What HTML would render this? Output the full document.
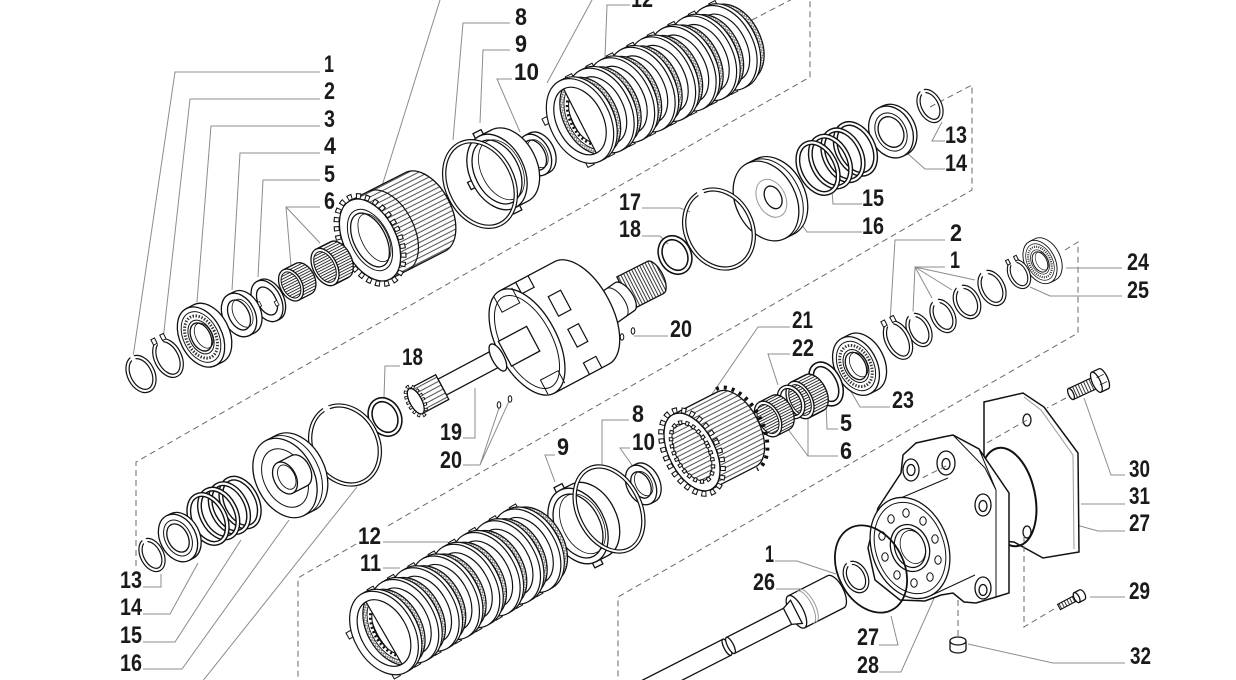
<!DOCTYPE html>
<html><head><meta charset="utf-8">
<style>
html,body{margin:0;padding:0;background:#fff;}
svg{display:block;}
text{font-family:"Liberation Sans Narrow","Liberation Sans",sans-serif;font-weight:bold;font-size:24px;fill:#1a1a1a;}
.k{fill:#fff;stroke:#111;stroke-width:1.3}
.n{fill:none;stroke:#111;stroke-width:1.2}
.rb{fill:none;stroke:#111;stroke-width:4.4}
.rw{fill:none;stroke:#fff;stroke-width:2}
.ld{fill:none;stroke:#8c8c8c;stroke-width:1}
.ds{fill:none;stroke:#6a6a6a;stroke-width:1;stroke-dasharray:6 4}
</style></head><body>
<svg width="1236" height="680" viewBox="0 0 1236 680" xmlns="http://www.w3.org/2000/svg">
<defs>
<pattern id="nd" width="6" height="2.6" patternUnits="userSpaceOnUse"><rect width="6" height="2.6" fill="#fff"/><path d="M0,1.3H6" stroke="#222" stroke-width="0.9"/></pattern>
<pattern id="sp" width="6" height="4.5" patternUnits="userSpaceOnUse"><rect width="6" height="4.5" fill="#fff"/><path d="M0,2.2H6" stroke="#222" stroke-width="0.8"/></pattern>
<pattern id="th" width="3" height="6" patternUnits="userSpaceOnUse"><rect width="3" height="6" fill="#fff"/><path d="M1.5,0V6" stroke="#222" stroke-width="0.9"/></pattern>
<pattern id="xh" width="3.5" height="3.5" patternUnits="userSpaceOnUse"><rect width="3.5" height="3.5" fill="#fff"/><path d="M0,0L3.5,3.5M3.5,0L0,3.5" stroke="#555" stroke-width="0.6"/></pattern>
<g id="pu">
 <path fill-rule="evenodd" d="M-15.5,0A27,41 0 1 0 38.5,0A27,41 0 1 0 -15.5,0ZM-7.5,0A19,30 0 1 0 30.5,0A19,30 0 1 0 -7.5,0Z" fill="url(#xh)" stroke="#111" stroke-width="1.2"/>
 <path fill-rule="evenodd" d="M-11.5,0A23,36 0 1 0 34.5,0A23,36 0 1 0 -11.5,0ZM-7.5,0A19,30 0 1 0 30.5,0A19,30 0 1 0 -7.5,0Z" fill="#fff" stroke="#111" stroke-width="0.8"/>
 <ellipse cx="11.5" rx="20.5" ry="31.5" fill="none" stroke="#111" stroke-width="2.6" stroke-dasharray="2 2.6"/>
 <rect x="7" y="-46" width="7" height="6" fill="#fff" stroke="#111" stroke-width="1"/>
 <rect x="-14" y="39" width="7" height="6" fill="#fff" stroke="#111" stroke-width="1"/>
 <rect x="-33" y="-19" width="6" height="7" fill="#fff" stroke="#111" stroke-width="1"/>
 <path d="M0,-45H4A30,45 0 0 1 4,45H0Z" fill="#fff" stroke="#111" stroke-width="1.2"/>
 <path fill-rule="evenodd" d="M-30,0A30,45 0 1 0 30,0A30,45 0 1 0 -30,0ZM-23,0A23,36 0 1 0 23,0A23,36 0 1 0 -23,0Z" fill="#fff" stroke="#111" stroke-width="1.2"/>
</g>
<g id="brg">
 <path d="M0,-32H8A21,32 0 0 1 8,32H0Z" class="k"/>
 <ellipse rx="21" ry="32" class="k"/>
 <ellipse rx="17.5" ry="27" class="n" style="stroke-width:1"/>
 <ellipse rx="14.5" ry="22.5" fill="none" stroke="#333" stroke-width="3" stroke-dasharray="1.4 1.6"/>
 <ellipse rx="11.5" ry="18" class="n" style="stroke-width:1"/>
 <ellipse rx="9.5" ry="15" class="k"/>
 <ellipse cx="3" rx="8" ry="13.5" class="n" style="stroke-width:.8"/>
</g>
</defs>

<g class="ds">
 <path d="M136,566 V462 L810,77 V0"/>
 <path d="M752,20 L800,-5"/>
 <path d="M930,107 L972,85 V190 L386,527"/>
 <path d="M356,544 L298,578 V680"/>
 <path d="M1065,250 L1078,242 V333 L618,597 V680"/>
</g>

<g class="ld">
 <path d="M320,72H175L133,357"/>
 <path d="M320,99H190L163,340"/>
 <path d="M320,126H211L197,302"/>
 <path d="M320,153H240L232,290"/>
 <path d="M320,180H263L258,277"/>
 <path d="M320,207H286L291,266M286,207L320,243"/>
 <path d="M440,0L382,186"/>
 <path d="M510,23H463L453,140"/>
 <path d="M510,50H483L480,123"/>
 <path d="M512,79H497L520,132"/>
 <path d="M630,5H607L605,57"/>
 <path d="M592,0L547,83"/>
 <path d="M945,141H932L942,122"/>
 <path d="M945,169H925L907,153"/>
 <path d="M862,204H833L832,190"/>
 <path d="M862,232H807L800,222"/>
 <path d="M642,208H680L690,212"/>
 <path d="M642,236H660L668,244"/>
 <path d="M945,240H895L890,322"/>
 <path d="M945,267H915L913,312M915,267L932,298M915,267L952,290M915,267L975,280"/>
 <path d="M1122,268H1066"/>
 <path d="M1122,296H1050L1030,287"/>
 <path d="M668,336H634"/>
 <path d="M790,327H758L710,397"/>
 <path d="M790,354H768L778,385"/>
 <path d="M890,407H860L850,390"/>
 <path d="M838,429H827L826,400"/>
 <path d="M838,456H808L808,412M808,456L787,428"/>
 <path d="M400,366H385L384,398"/>
 <path d="M463,438H475V388"/>
 <path d="M463,465H480L500,405M480,465L510,399"/>
 <path d="M143,587H161V574"/>
 <path d="M143,614H170L198,563"/>
 <path d="M143,642H175L241,540"/>
 <path d="M143,669H182L289,520"/>
 <path d="M143,697H190L357,487"/>
 <path d="M383,542H448"/>
 <path d="M383,568H400"/>
 <path d="M555,455H545L555,482"/>
 <path d="M629,420H602V465"/>
 <path d="M630,448H620L634,468"/>
 <path d="M775,561H797L836,574"/>
 <path d="M776,589H800L812,594"/>
 <path d="M879,645H898L891,616"/>
 <path d="M879,672H901L936,594"/>
 <path d="M1125,475H1111L1084,398"/>
 <path d="M1125,504H1081"/>
 <path d="M1125,531H1098L1040,515"/>
 <path d="M1125,597H1090"/>
 <path d="M1125,663H1053L968,644"/>
</g>

<g transform="translate(580,121) rotate(-27)">
 <use href="#pu" x="161"/><use href="#pu" x="138"/><use href="#pu" x="115"/><use href="#pu" x="92"/>
 <use href="#pu" x="69"/><use href="#pu" x="46"/><use href="#pu" x="23"/><use href="#pu" x="0"/>
</g>
<g transform="translate(535,155) rotate(-27)">
 <path d="M0,-22H5A15,22 0 0 1 5,22H0Z" class="k"/><ellipse rx="15" ry="22" class="k"/><ellipse rx="10" ry="16" class="k"/><ellipse cx="3" rx="9" ry="15" class="n" style="stroke-width:.8"/>
</g>
<g transform="translate(497,172) rotate(-27)">
 <rect x="-4" y="-45" width="9" height="6" class="k"/><rect x="-4" y="39" width="9" height="6" class="k"/><rect x="-31" y="-4" width="6" height="8" class="k"/>
 <path d="M0,-40H14A27,40 0 0 1 14,40H0Z" class="k"/>
 <ellipse rx="27" ry="40" class="k"/><ellipse rx="22" ry="34" class="k"/><ellipse cx="5" rx="20" ry="32" class="n" style="stroke-width:.8"/>
</g>
<g transform="translate(480,184) rotate(-27)"><ellipse rx="33" ry="45" class="rb"/><ellipse rx="33" ry="45" class="rw"/></g>
<g transform="translate(370,240) rotate(-27)">
 <path d="M0,-44H62A26,44 0 0 1 62,44H0Z" fill="url(#sp)" stroke="#111" stroke-width="1.3"/>
 <path d="M20,-44A26,44 0 0 1 20,44" class="n"/>
 <ellipse rx="29" ry="47" fill="none" stroke="#111" stroke-width="6" stroke-dasharray="5 4"/>
 <ellipse rx="29" ry="47" fill="none" stroke="#fff" stroke-width="3.8" stroke-dasharray="3 6" stroke-dashoffset="-1"/>
 <ellipse rx="26" ry="44" class="k"/>
 <ellipse rx="19" ry="33" class="n" style="stroke-width:1"/>
 <ellipse rx="16" ry="29" class="k"/>
 <ellipse cx="5" rx="13" ry="26" class="n" style="stroke-width:.8"/>
</g>
<g transform="translate(325,267) rotate(-27)">
 <path d="M0,-20H16A12,20 0 0 1 16,20H0Z" fill="url(#nd)" stroke="#111" stroke-width="1.3"/><ellipse rx="12" ry="20" class="k"/><ellipse rx="9.5" ry="16.5" fill="url(#nd)" stroke="#111" stroke-width="1"/>
</g>
<g transform="translate(291,285) rotate(-27)">
 <path d="M0,-17H14A11,17 0 0 1 14,17H0Z" fill="url(#nd)" stroke="#111" stroke-width="1.3"/><ellipse rx="11" ry="17" class="k"/><ellipse rx="8.5" ry="14" fill="url(#nd)" stroke="#111" stroke-width="1"/>
</g>
<g transform="translate(267,301) rotate(-27)">
 <path d="M0,-22H3A14,22 0 0 1 3,22H0Z" class="k"/><ellipse rx="14" ry="22" class="k"/><ellipse rx="9" ry="15" class="k"/>
 <rect x="-10" y="-3" width="3" height="5" class="k" style="stroke-width:.8"/><rect x="6" y="4" width="3" height="5" class="k" style="stroke-width:.8"/>
</g>
<g transform="translate(239,315) rotate(-27)">
 <path d="M0,-23H6A16,23 0 0 1 6,23H0Z" class="k"/><ellipse rx="16" ry="23" class="k"/><ellipse rx="10" ry="16" class="k"/><ellipse cx="4" rx="9" ry="15" class="n" style="stroke-width:.8"/>
</g>
<use href="#brg" transform="translate(201,337) rotate(-27)"/>
<g transform="translate(168,358) rotate(-27)">
 <ellipse rx="12" ry="19" class="rb"/><ellipse rx="12" ry="19" class="rw"/>
 <rect x="-3" y="-23" width="6" height="8" fill="#fff"/>
 <rect x="-7" y="-24" width="4" height="6" class="k" style="stroke-width:1"/><rect x="3" y="-24" width="4" height="6" class="k" style="stroke-width:1"/>
</g>
<g transform="translate(141,374) rotate(-27)">
 <ellipse rx="12" ry="18" class="rb"/><ellipse rx="12" ry="18" class="rw"/><rect x="-2" y="-22" width="4" height="8" fill="#fff"/>
</g>

<g transform="translate(930,106) rotate(-27)">
 <ellipse rx="10" ry="16" class="rb"/><ellipse rx="10" ry="16" class="rw"/><rect x="-2" y="-20" width="4" height="7" fill="#fff"/>
</g>
<g transform="translate(891,132) rotate(-27)">
 <path d="M0,-27H4A21,27 0 0 1 4,27H0Z" class="k"/><ellipse rx="21" ry="27" class="k"/><ellipse rx="15" ry="20" class="n" style="stroke-width:1"/><ellipse rx="12" ry="16" class="k"/>
</g>
<g transform="translate(818,168) rotate(-27)">
 <ellipse cx="42" rx="18" ry="27" class="rb" style="stroke-width:5"/><ellipse cx="42" rx="18" ry="27" class="rw" style="stroke-width:2.2"/>
 <ellipse cx="28" rx="18" ry="27" class="rb" style="stroke-width:5"/><ellipse cx="28" rx="18" ry="27" class="rw" style="stroke-width:2.2"/>
 <ellipse cx="14" rx="18" ry="27" class="rb" style="stroke-width:5"/><ellipse cx="14" rx="18" ry="27" class="rw" style="stroke-width:2.2"/>
 <ellipse cx="0" rx="18" ry="27" class="rb" style="stroke-width:5"/><ellipse cx="0" rx="18" ry="27" class="rw" style="stroke-width:2.2"/>
</g>
<g transform="translate(766,201) rotate(-27)">
 <path d="M0,-42H10A30,42 0 0 1 10,42H0Z" class="k"/>
 <path d="M5,-42A30,42 0 0 1 5,42" class="n" style="stroke-width:1"/>
 <ellipse rx="30" ry="42" class="k"/>
 <ellipse cx="6" rx="14" ry="20" fill="none" stroke="#999" stroke-width="1"/>
 <ellipse cx="8" rx="8" ry="12" class="k"/>
</g>
<g transform="translate(719,229) rotate(-27)">
 <ellipse rx="33" ry="41" class="rb"/><ellipse rx="33" ry="41" class="rw"/><rect x="-3" y="-45" width="6" height="8" fill="#fff"/>
</g>
<g transform="translate(675,255) rotate(-27)"><ellipse rx="14" ry="18" class="rb" style="stroke-width:5.5"/><ellipse rx="14" ry="18" class="rw" style="stroke-width:2.4"/></g>

<g transform="translate(625,293) rotate(-27)">
 <path d="M0,-18H34A8,18 0 0 1 34,18H0Z" fill="url(#th)" stroke="#111" stroke-width="1.3"/>
</g>
<g transform="translate(600,314) rotate(-35)">
 <path d="M0,-17H30A8,17 0 0 1 30,17H0Z" class="k"/>
 <path d="M20,-17A8,17 0 0 1 20,17" class="n" style="stroke-width:1"/>
</g>
<g transform="translate(527,342) rotate(-28)">
 <path d="M0,-58H62A30,58 0 0 1 62,58H0Z" class="k"/>
 <path d="M18,-58V-45H32V-58" class="n"/>
 <path d="M40,58V45H54V58" class="n"/>
 <rect x="40" y="-30" width="14" height="22" class="n"/>
 <rect x="42" y="8" width="12" height="20" class="n"/>
 <ellipse rx="30" ry="58" class="k"/>
 <ellipse rx="25" ry="51" class="n" style="stroke-width:1"/>
 <path d="M-8,-56V-38H12V-55" class="n" style="stroke-width:1"/>
 <path d="M-6,56V40H14V54" class="n" style="stroke-width:1"/>
 <rect x="-25" y="-14" width="32" height="28" class="k"/>
 <rect x="-96" y="-9" width="64" height="18" class="k"/>
 <ellipse cx="-33" rx="6" ry="15" class="k"/>
 <path d="M-126,-14H-96V14H-126Z" fill="url(#sp)" stroke="#111" stroke-width="1.3"/>
 <ellipse cx="-126" rx="7.5" ry="16" fill="none" stroke="#111" stroke-width="4" stroke-dasharray="3 2.5"/>
 <ellipse cx="-126" rx="7.5" ry="16" fill="none" stroke="#fff" stroke-width="2" stroke-dasharray="1.5 4" stroke-dashoffset="-0.75"/>
 <ellipse cx="-126" rx="6" ry="14" class="k"/>
</g>
<g class="k" style="stroke-width:1">
 <ellipse cx="622" cy="337" rx="1.8" ry="3.2"/><ellipse cx="633" cy="331" rx="1.8" ry="3.2"/>
 <ellipse cx="499" cy="405" rx="1.8" ry="3.2"/><ellipse cx="510" cy="399" rx="1.8" ry="3.2"/>
</g>

<use href="#brg" transform="translate(1040,262) rotate(-27) scale(.72)"/>
<g transform="translate(1019,274) rotate(-27)">
 <ellipse rx="9" ry="14" class="rb" style="stroke-width:4"/><ellipse rx="9" ry="14" class="rw" style="stroke-width:1.8"/>
 <rect x="-3" y="-18" width="6" height="7" fill="#fff"/>
 <rect x="-6" y="-18" width="3" height="5" class="k" style="stroke-width:1"/><rect x="3" y="-18" width="3" height="5" class="k" style="stroke-width:1"/>
</g>
<g transform="translate(992,288) rotate(-27)"><ellipse rx="11" ry="17" class="rb"/><ellipse rx="11" ry="17" class="rw"/><rect x="-3" y="-21" width="6" height="8" fill="#fff"/></g>
<g transform="translate(967,302) rotate(-27)"><ellipse rx="11" ry="16" class="rb"/><ellipse rx="11" ry="16" class="rw"/><rect x="-3" y="-20" width="6" height="8" fill="#fff"/></g>
<g transform="translate(943,316) rotate(-27)"><ellipse rx="10" ry="16" class="rb"/><ellipse rx="10" ry="16" class="rw"/><rect x="-3" y="-20" width="6" height="8" fill="#fff"/></g>
<g transform="translate(919,330) rotate(-27)"><ellipse rx="10" ry="16" class="rb"/><ellipse rx="10" ry="16" class="rw"/><rect x="-3" y="-20" width="6" height="8" fill="#fff"/></g>
<g transform="translate(898,340) rotate(-27)">
 <ellipse rx="11" ry="19" class="rb"/><ellipse rx="11" ry="19" class="rw"/>
 <rect x="-3" y="-23" width="6" height="8" fill="#fff"/>
 <rect x="-7" y="-24" width="4" height="6" class="k" style="stroke-width:1"/><rect x="3" y="-24" width="4" height="6" class="k" style="stroke-width:1"/>
</g>
<use href="#brg" transform="translate(856,366) rotate(-27) scale(1,.97)"/>
<g transform="translate(826,384) rotate(-27)"><ellipse rx="13" ry="21" class="rb" style="stroke-width:6"/><ellipse rx="13" ry="21" class="rw" style="stroke-width:3"/><rect x="-16" y="2" width="6" height="9" fill="#fff"/></g>
<g transform="translate(800,400) rotate(-27)">
 <path d="M0,-20H16A12,20 0 0 1 16,20H0Z" fill="url(#nd)" stroke="#111" stroke-width="1.3"/><ellipse rx="12" ry="20" class="k"/><ellipse rx="9.5" ry="16.5" fill="url(#nd)" stroke="#111" stroke-width="1"/>
</g>
<g transform="translate(791,402) rotate(-27)"><ellipse rx="11" ry="16" class="rb" style="stroke-width:4.5"/><ellipse rx="11" ry="16" class="rw" style="stroke-width:2"/></g>
<g transform="translate(768,419) rotate(-27)">
 <path d="M0,-19H14A12,19 0 0 1 14,19H0Z" fill="url(#nd)" stroke="#111" stroke-width="1.3"/><ellipse rx="12" ry="19" class="k"/><ellipse rx="9.5" ry="15.5" fill="url(#nd)" stroke="#111" stroke-width="1"/>
</g>
<g transform="translate(692,452) rotate(-27)">
 <path d="M0,-42H50A23,42 0 0 1 50,42H0Z" fill="url(#sp)" stroke="#111" stroke-width="1.3"/>
 <path d="M50,-45A26,45 0 0 1 50,45" fill="none" stroke="#111" stroke-width="4" stroke-dasharray="3 5"/>
 <ellipse rx="26" ry="45" fill="none" stroke="#111" stroke-width="6" stroke-dasharray="5 4"/>
 <ellipse rx="26" ry="45" fill="none" stroke="#fff" stroke-width="3.8" stroke-dasharray="3 6" stroke-dashoffset="-1"/>
 <ellipse rx="23" ry="42" class="k"/>
 <ellipse rx="16" ry="31" fill="url(#sp)" stroke="#111" stroke-width="1"/>
 <ellipse rx="17" ry="32" fill="none" stroke="#111" stroke-width="4.5" stroke-dasharray="4 3"/>
 <ellipse rx="17" ry="32" fill="none" stroke="#fff" stroke-width="2.5" stroke-dasharray="2 5" stroke-dashoffset="-1"/>
</g>

<g transform="translate(641,485) rotate(-27)">
 <path d="M0,-21H5A14,21 0 0 1 5,21H0Z" class="k"/><ellipse rx="14" ry="21" class="k"/><ellipse rx="9" ry="14" class="k"/><ellipse cx="3" rx="8" ry="13" class="n" style="stroke-width:.8"/>
</g>
<g transform="translate(578,526) rotate(-27)">
 <rect x="-4" y="-45" width="9" height="6" class="k"/><rect x="-4" y="39" width="9" height="6" class="k"/><rect x="-31" y="-4" width="6" height="8" class="k"/><rect x="18" y="26" width="8" height="7" class="k"/>
 <path d="M0,-40H13A27,40 0 0 1 13,40H0Z" class="k"/>
 <ellipse rx="27" ry="40" class="k"/><ellipse rx="22" ry="34" class="k"/><ellipse cx="5" rx="20" ry="32" class="n" style="stroke-width:.8"/>
</g>
<g transform="translate(609,509) rotate(-27)"><ellipse rx="31" ry="45" class="rb"/><ellipse rx="31" ry="45" class="rw"/></g>
<g transform="translate(384,633) rotate(-30)">
 <use href="#pu" x="164.5"/><use href="#pu" x="141"/><use href="#pu" x="117.5"/><use href="#pu" x="94"/>
 <use href="#pu" x="70.5"/><use href="#pu" x="47"/><use href="#pu" x="23.5"/><use href="#pu" x="0"/>
</g>
<g transform="translate(385,417) rotate(-27)"><ellipse rx="14" ry="18" class="rb" style="stroke-width:5.5"/><ellipse rx="14" ry="18" class="rw" style="stroke-width:2.4"/></g>
<g transform="translate(345,445) rotate(-27)">
 <ellipse rx="33" ry="41" class="rb"/><ellipse rx="33" ry="41" class="rw"/><rect x="-3" y="-45" width="6" height="8" fill="#fff"/>
</g>
<g transform="translate(285,478) rotate(-27)">
 <path d="M0,-42H12A29,42 0 0 1 12,42H0Z" class="k"/>
 <path d="M6,-42A29,42 0 0 1 6,42" class="n" style="stroke-width:1"/>
 <ellipse rx="29" ry="42" class="k"/>
 <ellipse rx="21" ry="31" class="n" style="stroke-width:1"/>
 <path d="M0,-17H16A11,17 0 0 1 16,17H0Z" class="k"/>
 <ellipse rx="11" ry="17" class="k"/>
 <ellipse cx="2" rx="8" ry="13" class="n" style="stroke-width:.9"/>
</g>
<g transform="translate(208,519) rotate(-27)">
 <ellipse cx="36" rx="17" ry="26" class="rb" style="stroke-width:5"/><ellipse cx="36" rx="17" ry="26" class="rw" style="stroke-width:2.2"/>
 <ellipse cx="24" rx="17" ry="26" class="rb" style="stroke-width:5"/><ellipse cx="24" rx="17" ry="26" class="rw" style="stroke-width:2.2"/>
 <ellipse cx="12" rx="17" ry="26" class="rb" style="stroke-width:5"/><ellipse cx="12" rx="17" ry="26" class="rw" style="stroke-width:2.2"/>
 <ellipse cx="0" rx="17" ry="26" class="rb" style="stroke-width:5"/><ellipse cx="0" rx="17" ry="26" class="rw" style="stroke-width:2.2"/>
</g>
<g transform="translate(178,538) rotate(-27)">
 <path d="M0,-25H4A18,25 0 0 1 4,25H0Z" class="k"/><ellipse rx="18" ry="25" class="k"/><ellipse rx="13" ry="19" class="n" style="stroke-width:1"/><ellipse rx="10" ry="15" class="k"/>
</g>
<g transform="translate(152,555) rotate(-27)">
 <ellipse rx="10" ry="16" class="rb"/><ellipse rx="10" ry="16" class="rw"/><rect x="-2" y="-20" width="4" height="7" fill="#fff"/>
</g>

<path d="M984,402 L1023,393 L1044,407 L1078,453 L1079,552 L1043,558 L1014,542 L984,540Z" class="k" style="stroke-width:1.5"/>
<path d="M1024,397 L1041,410 L1073,455 L1074,549" fill="none" stroke="#999" stroke-width="1"/>
<ellipse cx="1027" cy="420" rx="4" ry="6" class="k"/>
<ellipse cx="1027" cy="532" rx="4" ry="6" class="k"/>
<ellipse cx="1008" cy="497" rx="27" ry="50" transform="rotate(-12 1008 497)" fill="none" stroke="#111" stroke-width="2"/>

<path d="M901,473 L903,455 L916,443 L943,437 L953,435 L979,449 L1009,493 L1009,593 L996,597 L976,603 L964,602 L953,593 L941,595 L925,601 L900,600 L875,580 L868,548 L878,508 Z" class="k" style="stroke-width:1.5"/>
<path d="M953,435 L985,468 L996,490 L996,597 M979,449 L996,490" class="n" style="stroke-width:1"/>
<path d="M896,500 L948,478 M930,596 L975,575" class="n" style="stroke-width:1"/>
<ellipse cx="911" cy="470" rx="8" ry="11" class="k"/><ellipse cx="911" cy="470" rx="4" ry="5.5" class="k"/>
<ellipse cx="946" cy="463" rx="9" ry="12" class="k"/><ellipse cx="946" cy="464" rx="4" ry="5.5" class="k"/>
<ellipse cx="983" cy="505" rx="8" ry="11" class="k"/><ellipse cx="983" cy="506" rx="4" ry="5.5" class="k"/>
<ellipse cx="983" cy="588" rx="8" ry="11" class="k"/><ellipse cx="983" cy="590" rx="4" ry="5.5" class="k"/>
<g transform="translate(910,548) rotate(-20)">
 <ellipse rx="38" ry="52" class="k"/>
 <ellipse rx="34" ry="47" class="n" style="stroke-width:1"/>
 <ellipse rx="19" ry="24" class="k"/>
 <ellipse rx="15" ry="20" class="n"/>
 <ellipse cx="3" rx="12" ry="17" class="n" style="stroke-width:.8"/>
</g>
<g class="k" style="stroke-width:1">
 <ellipse cx="935" cy="539" rx="3.2" ry="4.2"/><ellipse cx="938" cy="560" rx="3.2" ry="4.2"/>
 <ellipse cx="930" cy="577" rx="3.2" ry="4.2"/><ellipse cx="914" cy="583" rx="3.2" ry="4.2"/>
 <ellipse cx="897" cy="575" rx="3.2" ry="4.2"/><ellipse cx="885" cy="557" rx="3.2" ry="4.2"/>
 <ellipse cx="882" cy="536" rx="3.2" ry="4.2"/><ellipse cx="891" cy="519" rx="3.2" ry="4.2"/>
 <ellipse cx="906" cy="513" rx="3.2" ry="4.2"/><ellipse cx="923" cy="521" rx="3.2" ry="4.2"/>
</g>
<g transform="translate(1071,394) rotate(-25)">
 <rect x="0" y="-6" width="28" height="12" fill="url(#th)" stroke="#111" stroke-width="1.2"/>
 <ellipse rx="2.5" ry="6" class="k"/>
 <path d="M28,-11H36A4,11 0 0 1 36,11H28Z" class="k"/>
 <ellipse cx="28" rx="4" ry="11" class="k"/>
 <path d="M30,-4H38M30,4H38" class="n" style="stroke-width:.8"/>
</g>
<g transform="translate(1059,607) rotate(-28)">
 <rect x="0" y="-3" width="20" height="6" fill="url(#th)" stroke="#111" stroke-width="1.1"/>
 <path d="M20,-5.5H26A3,5.5 0 0 1 26,5.5H20Z" class="k"/>
 <ellipse cx="20" rx="2.5" ry="5.5" class="k"/>
</g>
<path d="M950,641 L950,649 A8,4 0 0 0 966,649 L966,641" class="k"/>
<ellipse cx="958" cy="641" rx="8" ry="4" class="k"/>
<g transform="translate(800,610) rotate(-27)">
 <path d="M-172,-9H-82V9H-172Z" class="k"/>
 <ellipse cx="-82" rx="3" ry="9" class="k"/>
 <path d="M-78,-9H-10V9H-78Z" class="k"/>
 <ellipse cx="-78" rx="3" ry="9" class="k"/>
 <path d="M-4,-18H40A8,18 0 0 1 40,18H-4Z" class="k"/>
 <path d="M6,-18A7,18 0 0 1 6,18M9,-18A7,18 0 0 1 9,18" fill="none" stroke="#999" stroke-width="1"/>
 <ellipse cx="-4" rx="7" ry="18" class="k"/>
 <path d="M-14,-9L-4,-13V13L-14,9Z" class="k"/>
</g>
<ellipse cx="871" cy="569" rx="33" ry="46" transform="rotate(-27 871 569)" fill="none" stroke="#111" stroke-width="1.8"/>
<g transform="translate(856,577) rotate(-27)">
 <ellipse rx="10" ry="15" class="rb"/><ellipse rx="10" ry="15" class="rw"/><rect x="-2" y="-19" width="4" height="7" fill="#fff"/>
</g>

<g class="ds">
 <path d="M1066,398 L1047,408"/>
 <path d="M1027,420 L985,444"/>
 <path d="M946,466 L922,478"/>
 <path d="M1054,609 L1024,627 V533"/>
 <path d="M958,600 V637"/>
</g>

<g>
 <text x="324" y="72" textLength="10" lengthAdjust="spacingAndGlyphs">1</text>
 <text x="324" y="99" textLength="11" lengthAdjust="spacingAndGlyphs">2</text>
 <text x="324" y="127" textLength="11" lengthAdjust="spacingAndGlyphs">3</text>
 <text x="324" y="154" textLength="12" lengthAdjust="spacingAndGlyphs">4</text>
 <text x="324" y="182" textLength="11" lengthAdjust="spacingAndGlyphs">5</text>
 <text x="324" y="209" textLength="11" lengthAdjust="spacingAndGlyphs">6</text>
 <text x="515" y="25" textLength="12" lengthAdjust="spacingAndGlyphs">8</text>
 <text x="515" y="52" textLength="12" lengthAdjust="spacingAndGlyphs">9</text>
 <text x="514" y="80" textLength="25" lengthAdjust="spacingAndGlyphs">10</text>
 <text x="631" y="7" textLength="22" lengthAdjust="spacingAndGlyphs">12</text>
 <text x="945" y="143" textLength="22" lengthAdjust="spacingAndGlyphs">13</text>
 <text x="945" y="171" textLength="22" lengthAdjust="spacingAndGlyphs">14</text>
 <text x="862" y="206" textLength="22" lengthAdjust="spacingAndGlyphs">15</text>
 <text x="862" y="234" textLength="22" lengthAdjust="spacingAndGlyphs">16</text>
 <text x="619" y="210" textLength="22" lengthAdjust="spacingAndGlyphs">17</text>
 <text x="619" y="237" textLength="22" lengthAdjust="spacingAndGlyphs">18</text>
 <text x="950" y="241" textLength="12" lengthAdjust="spacingAndGlyphs">2</text>
 <text x="950" y="268" textLength="10" lengthAdjust="spacingAndGlyphs">1</text>
 <text x="1127" y="270" textLength="22" lengthAdjust="spacingAndGlyphs">24</text>
 <text x="1127" y="298" textLength="22" lengthAdjust="spacingAndGlyphs">25</text>
 <text x="670" y="337" textLength="22" lengthAdjust="spacingAndGlyphs">20</text>
 <text x="792" y="328" textLength="21" lengthAdjust="spacingAndGlyphs">21</text>
 <text x="792" y="356" textLength="22" lengthAdjust="spacingAndGlyphs">22</text>
 <text x="892" y="408" textLength="22" lengthAdjust="spacingAndGlyphs">23</text>
 <text x="840" y="431" textLength="12" lengthAdjust="spacingAndGlyphs">5</text>
 <text x="840" y="459" textLength="12" lengthAdjust="spacingAndGlyphs">6</text>
 <text x="402" y="365" textLength="21" lengthAdjust="spacingAndGlyphs">18</text>
 <text x="440" y="440" textLength="22" lengthAdjust="spacingAndGlyphs">19</text>
 <text x="440" y="468" textLength="22" lengthAdjust="spacingAndGlyphs">20</text>
 <text x="632" y="422" textLength="12" lengthAdjust="spacingAndGlyphs">8</text>
 <text x="557" y="455" textLength="12" lengthAdjust="spacingAndGlyphs">9</text>
 <text x="632" y="450" textLength="23" lengthAdjust="spacingAndGlyphs">10</text>
 <text x="358" y="544" textLength="23" lengthAdjust="spacingAndGlyphs">12</text>
 <text x="360" y="571" textLength="21" lengthAdjust="spacingAndGlyphs">11</text>
 <text x="120" y="588" textLength="22" lengthAdjust="spacingAndGlyphs">13</text>
 <text x="120" y="615" textLength="22" lengthAdjust="spacingAndGlyphs">14</text>
 <text x="120" y="643" textLength="22" lengthAdjust="spacingAndGlyphs">15</text>
 <text x="120" y="671" textLength="22" lengthAdjust="spacingAndGlyphs">16</text>
 <text x="120" y="697" textLength="22" lengthAdjust="spacingAndGlyphs">17</text>
 <text x="765" y="562" textLength="9" lengthAdjust="spacingAndGlyphs">1</text>
 <text x="753" y="590" textLength="22" lengthAdjust="spacingAndGlyphs">26</text>
 <text x="857" y="645" textLength="22" lengthAdjust="spacingAndGlyphs">27</text>
 <text x="857" y="673" textLength="22" lengthAdjust="spacingAndGlyphs">28</text>
 <text x="1129" y="477" textLength="21" lengthAdjust="spacingAndGlyphs">30</text>
 <text x="1129" y="504" textLength="21" lengthAdjust="spacingAndGlyphs">31</text>
 <text x="1129" y="531" textLength="21" lengthAdjust="spacingAndGlyphs">27</text>
 <text x="1129" y="599" textLength="21" lengthAdjust="spacingAndGlyphs">29</text>
 <text x="1130" y="664" textLength="21" lengthAdjust="spacingAndGlyphs">32</text>
</g>
</svg>
</body></html>
